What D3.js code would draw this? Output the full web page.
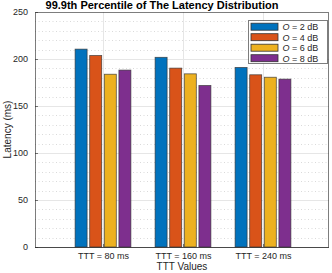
<!DOCTYPE html>
<html>
<head>
<meta charset="utf-8">
<script src="https://cdn.jsdelivr.net/npm/d3@7"></script>
<style>
  body { margin: 0; background: #fff; }
  svg { display: block; font-family: "Liberation Sans", Arial, sans-serif; }
</style>
</head>
<body>
<div id="chart"></div>
<script>
// chart data
const groups = ["TTT = 80 ms", "TTT = 160 ms", "TTT = 240 ms"];
const seriesNames = ["2", "4", "6", "8"]; // O in dB
const seriesColors = ["#0072BD", "#D95319", "#EDB120", "#7E2F8E"];
const o2dB = [210.5, 201.8, 191];
const o4dB = [203.7, 190.3, 183.2];
const o6dB = [183.8, 184.2, 180.6];
const o8dB = [188.2, 171.8, 178.6];
const yTicks = [0, 50, 100, 150, 200, 250];

const values = [o2dB, o4dB, o6dB, o8dB];

const width = 332, height = 273;
const margin = { top: 12, right: 3, bottom: 26, left: 35 };

const svg = d3.select("#chart").append("svg")
    .attr("width", width)
    .attr("height", height);

const x = d3.scaleLinear()
    .domain([0.15, 3.825])
    .range([margin.left, width - margin.right]);

const y = d3.scaleLinear()
    .domain([0, 250])
    .range([height - margin.bottom, margin.top]);

const plotL = margin.left, plotR = width - margin.right;
const plotT = margin.top, plotB = height - margin.bottom;

// minor grid (dotted)
svg.append("g")
  .selectAll("line")
  .data(d3.range(10, 250, 10).filter(v => v % 50 !== 0))
  .join("line")
    .attr("x1", plotL).attr("x2", plotR)
    .attr("y1", d => Math.round(y(d)) + 0.5).attr("y2", d => Math.round(y(d)) + 0.5)
    .attr("stroke", "#dadada")
    .attr("stroke-width", 1)
    .attr("stroke-dasharray", "1,2.5");

// major grid
svg.append("g")
  .selectAll("line")
  .data(yTicks.slice(1, -1))
  .join("line")
    .attr("x1", plotL).attr("x2", plotR)
    .attr("y1", d => Math.round(y(d)) + 0.5).attr("y2", d => Math.round(y(d)) + 0.5)
    .attr("stroke", "#e6e6e6");

svg.append("g")
  .selectAll("line")
  .data([1, 2, 3])
  .join("line")
    .attr("x1", d => Math.round(x(d)) + 0.5).attr("x2", d => Math.round(x(d)) + 0.5)
    .attr("y1", plotT).attr("y2", plotB)
    .attr("stroke", "#e6e6e6");

// bars
const barW = 12, pitch = 14.6;
values.forEach((vals, s) => {
  svg.append("g")
    .selectAll("rect")
    .data(vals)
    .join("rect")
      .attr("x", (d, i) => x(i + 1) + (s - 1.5) * pitch - barW / 2)
      .attr("y", d => y(d))
      .attr("width", barW)
      .attr("height", d => y(0) - y(d))
      .attr("fill", seriesColors[s])
      .attr("stroke", "#333")
      .attr("stroke-opacity", 0.8)
      .attr("stroke-width", 0.8);
});

// axes box
svg.append("rect")
    .attr("x", plotL + 0.5).attr("y", plotT + 0.5)
    .attr("width", plotR - plotL - 1).attr("height", plotB - plotT)
    .attr("fill", "none")
    .attr("stroke", "#262626")
    .attr("stroke-opacity", 0.6);

svg.append("line")
    .attr("x1", plotL).attr("x2", plotR)
    .attr("y1", plotB + 0.5).attr("y2", plotB + 0.5)
    .attr("stroke", "#262626").attr("stroke-opacity", 0.6);

// y tick labels
const yAxis = svg.append("g")
    .attr("transform", `translate(${plotL},0)`)
    .call(d3.axisLeft(y).tickValues(yTicks).tickSize(3).tickSizeInner(-3).tickPadding(7));
yAxis.select(".domain").remove();
yAxis.selectAll("line").attr("stroke", "#262626").attr("stroke-opacity", 0.6);
yAxis.selectAll("text").attr("fill", "#262626").attr("font-size", 9)
    .attr("font-family", "Liberation Sans, Arial, sans-serif");

// x tick labels
const xAxis = svg.append("g")
    .attr("transform", `translate(0,${plotB})`)
    .call(d3.axisBottom(x).tickValues([1, 2, 3]).tickFormat((d, i) => groups[i]).tickSizeInner(-3).tickPadding(6));
xAxis.select(".domain").remove();
xAxis.selectAll("line").attr("stroke", "#262626").attr("stroke-opacity", 0.6);
xAxis.selectAll("text").attr("fill", "#262626").attr("font-size", 9)
    .attr("font-family", "Liberation Sans, Arial, sans-serif");

// axis labels
svg.append("text")
    .attr("x", (plotL + plotR) / 2)
    .attr("y", 270)
    .attr("text-anchor", "middle")
    .attr("font-size", 10)
    .attr("fill", "#262626")
    .text("TTT Values");

svg.append("text")
    .attr("transform", `translate(11,${(plotT + plotB) / 2}) rotate(-90)`)
    .attr("text-anchor", "middle")
    .attr("font-size", 10)
    .attr("fill", "#262626")
    .text("Latency (ms)");

// title
svg.append("text")
    .attr("x", 162)
    .attr("y", 9)
    .attr("text-anchor", "middle")
    .attr("font-size", 11)
    .attr("font-weight", "bold")
    .attr("fill", "#000")
    .text("99.9th Percentile of The Latency Distribution");

// legend
const legend = svg.append("g").attr("transform", "translate(248.5,20.5)");
legend.append("rect")
    .attr("width", 79).attr("height", 43)
    .attr("fill", "#fff")
    .attr("stroke", "#262626").attr("stroke-opacity", 0.6);

const items = legend.selectAll("g.item")
  .data(seriesNames)
  .join("g")
    .attr("class", "item")
    .attr("transform", (d, i) => `translate(0,${6.2 + i * 10.5})`);

items.append("rect")
    .attr("x", 2.5).attr("y", -3.5)
    .attr("width", 27).attr("height", 7)
    .attr("fill", (d, i) => seriesColors[i])
    .attr("stroke", "#333").attr("stroke-width", 0.8);

const lt = items.append("text")
    .attr("x", 34).attr("y", 3.3)
    .attr("font-size", 9)
    .attr("fill", "#262626");
lt.append("tspan").attr("font-style", "italic").text("O");
lt.append("tspan").text(d => ` = ${d} dB`);
</script>
</body>
</html>
